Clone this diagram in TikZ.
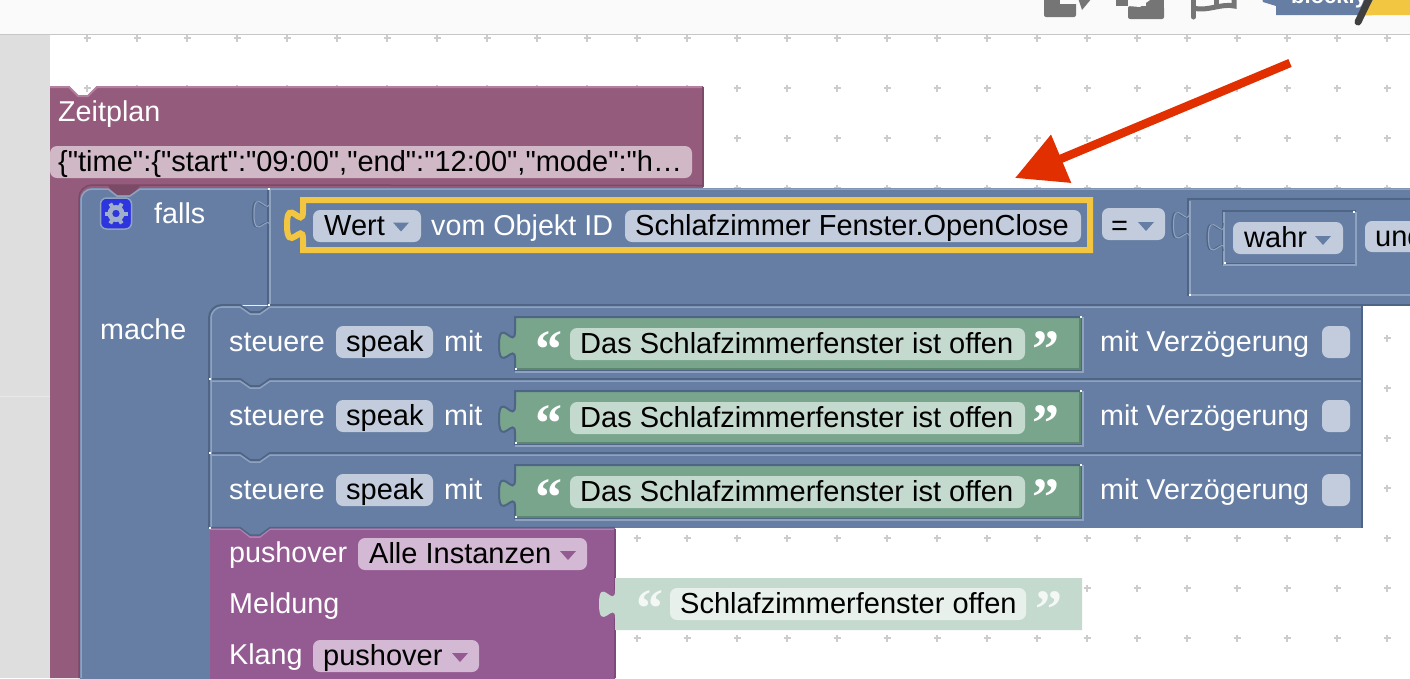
\documentclass[tikz,border=0pt]{standalone}
\usepackage{fontspec}
\setmainfont{Liberation Sans}
\newfontfamily\quotefont{Liberation Serif}
\newfontfamily\jsonfont{Liberation Sans}
\usetikzlibrary{arrows.meta}
\definecolor{blockblue}{HTML}{667EA3}
\definecolor{blockdark}{HTML}{4F6585}
\definecolor{blocklight}{HTML}{8FA2C0}
\definecolor{bluepill}{HTML}{C2CCDC}
\definecolor{gearblue}{HTML}{2D35DE}
\definecolor{planred}{HTML}{955B7C}
\definecolor{plandark}{HTML}{7A4A66}
\definecolor{planlight}{HTML}{B380A0}
\definecolor{planpill}{HTML}{D0B8C6}
\definecolor{stringgreen}{HTML}{78A58C}
\definecolor{greendark}{HTML}{5B8670}
\definecolor{greenpale}{HTML}{C5DACF}
\definecolor{palepill}{HTML}{E8F0EC}
\definecolor{pushpurple}{HTML}{945A92}
\definecolor{pushdark}{HTML}{7D4A7B}
\definecolor{pushlight}{HTML}{B27FB0}
\definecolor{pushpill}{HTML}{D3B9D3}
\definecolor{hiyellow}{HTML}{F2C641}
\definecolor{arrowred}{HTML}{E12F00}
\definecolor{icongrey}{HTML}{757575}
\tikzset{
	blocktext/.style={anchor=base west,inner sep=0pt,text=white,font=\fontsize{28.7}{32}\selectfont},
	fieldtext/.style={anchor=base west,inner sep=0pt,text=black,font=\fontsize{29}{32}\selectfont},
	quotetext/.style={anchor=base west,inner sep=0pt,text=white,font=\quotefont\bfseries\fontsize{54}{54}\selectfont},
	gridplus/.style={draw=black!20,line width=1.5pt},
	darkedge/.style={draw=blockdark,line width=2pt},
	lightedge/.style={draw=blocklight,line width=2pt}
}
% value block with its puzzle tab on the left: x1,y1,x2,y2,tab top
\newcommand{\valuepath}[5]{(#1,#2) -- (#1,#5) .. controls +(0,20) and (#1-16,#5-16) .. (#1-16,#5+14) .. controls (#1-16,#5+44) and (#1,#5+10) .. (#1,#5+28) -- (#1,#4) -- (#3,#4) -- (#3,#2) -- cycle}
\newcommand{\tabpath}[2]{(#1,#2) .. controls +(0,20) and (#1-16,#2-16) .. (#1-16,#2+14) .. controls (#1-16,#2+44) and (#1,#2+10) .. (#1,#2+28)}
\newcommand{\pill}[5]{\fill[#5,rounded corners=7pt] (#1,#2) rectangle (#3,#4);}
\newcommand{\dropdown}[3]{\fill[#3] (#1,#2) -- (#1+16,#2) -- (#1+8,#2+9) -- cycle;}
\begin{document}
\begin{tikzpicture}[x=1pt,y=-1pt]
	\useasboundingbox (0,0) rectangle (1410,678);
	\clip (0,0) rectangle (1410,678);
	\fill[white] (0,0) rectangle (1410,678);
	
	% workspace grid
	\foreach \gx in {87,137,...,1387}
		\foreach \gy in {38,88,...,638}
			\draw[gridplus] (\gx-3.5,\gy) -- (\gx+3.5,\gy) (\gx,\gy-3.5) -- (\gx,\gy+3.5);
	
	% toolbar and side panel
	\fill[black!2] (0,0) rectangle (1410,34);
	\draw[black!22,line width=1.5pt] (0,34.5) -- (1410,34.5);
	\fill[black!13] (0,35) rectangle (50,678);
	\draw[black!9,line width=1.5pt] (0,396.5) -- (50,396.5);
	
	\fill[icongrey,rounded corners=2pt] (1044,-5) rectangle (1076,17);
	\fill[white!98!black] (1060,-5) rectangle (1080,4);
	\fill[icongrey] (1078,-2) -- (1092,-2) -- (1082,10) -- cycle;
	\fill[icongrey] (1116,-2) rectangle (1128,6);
	\fill[icongrey,rounded corners=2pt] (1128,6) rectangle (1164,19);
	\fill[icongrey] (1146,-2) rectangle (1164,8);
	\fill[white!98!black] (1140,7) -- (1150,0) -- (1146,-2) -- (1128,-2) -- (1128,6) -- cycle;
	\draw[icongrey,line width=5pt,line cap=round] (1193.5,-2) -- (1193.5,17);
	\draw[icongrey,line width=5pt] (1193.5,8) .. controls (1206,12) and (1222,3) .. (1234,6) -- (1234,-2);
	\draw[icongrey,line width=5pt] (1216,7) -- (1216,-2);
	\fill[blockblue] (1262,-2) -- (1263,2) -- (1276,6) -- (1276,15) -- (1372,15) -- (1378,-2) -- cycle;
	\fill[hiyellow] (1374,-2) -- (1364,15) -- (1410,15) -- (1410,-2) -- cycle;
	\node[anchor=base west,inner sep=0pt,text=white,font=\bfseries\fontsize{22}{24}\selectfont] (logotext) at (1291,3) {blockly};
	\draw[black!75,line width=7pt,line cap=round] (1370,-3) -- (1358,22);
	
	% Zeitplan block
	\fill[planred] (50,86) -- (69,86) -- (78,95) -- (88,95) -- (97,86) -- (703,86) -- (703,200) -- (80,200) -- (80,678) -- (50,678) -- cycle;
	\draw[planlight,line width=2pt] (50,87) -- (69,87) -- (78,96) -- (88,96) -- (97,87) -- (702,87);
	\draw[plandark,line width=1.5pt] (703,87) -- (703,187);
	\fill[plandark] (108,186) -- (140,186) -- (130,196) -- (117,196) -- cycle;
	\draw[plandark,line width=1.5pt] (79,678) -- (79,198) arc[start angle=180,end angle=270,radius=13] -- (703,185.5);
	\node[blocktext] (zeitplan) at (58,121) {Zeitplan};
	\pill{50}{146}{692}{178}{planpill}
	\node[fieldtext,font=\jsonfont\fontsize{29}{32}\selectfont] (zeitplanjson) at (58,171.5) {\{"time":\{"start":"09:00","end":"12:00","mode":"h…};
	
	% falls block
	\fill[blockblue,rounded corners=12pt] (80,700) -- (80,188) -- (108,188) [sharp corners] -- (117,195) -- (130,195) -- (140,188) -- (1420,188) -- (1420,305) -- (210,305) -- (210,700) -- cycle;
	\draw[blocklight,line width=1.5pt] (81,678) -- (81,200) arc[start angle=180,end angle=270,radius=11] -- (108,189) -- (117,196) -- (130,196) -- (140,189) -- (1410,189);
	\node[draw=blocklight,line width=1.5pt,fill=gearblue,rounded corners=6pt,minimum size=31pt,inner sep=0pt] (gearbox) at (116,213.5) {};
	\fill[blocklight!85!white,even odd rule] (gearbox.center) circle[radius=8.5] (gearbox.center) circle[radius=3.8];
	\foreach \ang in {0,60,...,300}
		\draw[blocklight!85!white,line width=4pt] (gearbox.center) ++(\ang:7) -- ++(\ang:4.5);
	\node[blocktext] (falls) at (154,223) {falls};
	\node[blocktext] (mache) at (100,339) {mache};
	
	% socket of the condition
	\draw[darkedge,line width=1.5pt] (268,190) -- (268,305);
	\draw[lightedge,line width=1.2pt] (270,190) -- (270,305);
	\draw[darkedge,line width=1.2pt] \tabpath{268.5}{200};
	\draw[lightedge,line width=1pt] \tabpath{270}{200};
	
	% condition block with the yellow frame
	\fill[hiyellow] (300,197) rectangle (1093,253);
	\draw[hiyellow,fill=blockblue,line width=6pt] \valuepath{303}{200}{1090}{250}{211};
	\pill{313}{210}{421}{242}{bluepill}
	\node[fieldtext] (wert) at (324,235) {Wert};
	\dropdown{393}{222.5}{blockblue}
	\node[blocktext] (vomobjekt) at (431,235) {vom Objekt ID};
	\pill{625}{210}{1081}{242}{bluepill}
	\node[fieldtext] (objektid) at (635,235) {Schlafzimmer Fenster.OpenClose};
	\pill{1102}{208}{1165}{240}{bluepill}
	\node[fieldtext] (gleich) at (1111,235) {=};
	\dropdown{1138}{222}{blockblue}
	
	% right hand sockets
	\draw[darkedge] (1420,199) -- (1188,199) -- (1188,296);
	\draw[lightedge,line width=1.5pt] (1190,201) -- (1190,295) -- (1420,295);
	\draw[darkedge,line width=1.2pt] \tabpath{1188}{211};
	\draw[lightedge,line width=1pt] \tabpath{1189.5}{211};
	\draw[darkedge] (1356,211) -- (1223,211) -- (1223,264) -- (1356,264);
	\draw[lightedge,line width=1.5pt] (1356,212) -- (1356,265) -- (1224,265) -- (1224,212);
	\draw[darkedge,line width=1.2pt] \tabpath{1223}{223};
	\draw[lightedge,line width=1pt] \tabpath{1224.5}{223};
	\pill{1233}{222}{1343}{254}{bluepill}
	\node[fieldtext] (wahr) at (1244,247) {wahr};
	\dropdown{1315}{236}{blockblue}
	\pill{1365}{221}{1430}{252}{bluepill}
	\node[fieldtext] (und) at (1375,246) {und};
	\draw[darkedge] (1362,304.5) -- (1410,304.5);
	
	% steuere blocks
	\foreach \i/\rowy in {1/306,2/380,3/454} {
		\fill[blockblue] (210,\rowy) rectangle (1362,\rowy+74);
		\draw[darkedge] (210,\rowy-1) -- (240,\rowy-1) -- (250,\rowy+6) -- (260,\rowy+6) -- (270,\rowy-1) -- (1362,\rowy-1);
		\draw[lightedge,line width=1.5pt] (210,\rowy+1) -- (240,\rowy+1) -- (250,\rowy+8) -- (260,\rowy+8) -- (270,\rowy+1) -- (1362,\rowy+1);
		\draw[darkedge,line width=1.5pt] (1362,\rowy) -- (1362,\rowy+74);
		\node[blocktext] (steuere\i) at (229,\rowy+45) {steuere};
		\pill{336}{\rowy+20}{433}{\rowy+52}{bluepill}
		\node[fieldtext] (speak\i) at (346,\rowy+45) {speak};
		\node[blocktext] (mit\i) at (444,\rowy+45) {mit};
		\draw[blockdark,line width=2pt,fill=stringgreen] \valuepath{515}{\rowy+11}{1081}{\rowy+64}{\rowy+25};
		\draw[lightedge,line width=2pt] (515,\rowy+65.5) -- (1082.5,\rowy+65.5) -- (1082.5,\rowy+11);
		\draw[greendark,line width=1.5pt] (516,\rowy+63) -- (1080,\rowy+63) -- (1080,\rowy+12);
		\node[quotetext] (quoteopen\i) at (535,\rowy+61.5) {“};
		\pill{570}{\rowy+22}{1025}{\rowy+54}{greenpale}
		\node[fieldtext] (text\i) at (580,\rowy+47) {Das Schlafzimmerfenster ist offen};
		\node[quotetext] (quoteclose\i) at (1032,\rowy+61.5) {”};
		\node[blocktext] (verzoegerung\i) at (1100,\rowy+45) {mit Verzögerung};
		\pill{1322}{\rowy+20}{1350}{\rowy+52}{bluepill}
	}
	% rounded corner of the first one, left edge
	\fill[blockblue] (207,302) rectangle (222,318);
	\draw[darkedge] (209,528) -- (209,318) arc[start angle=180,end angle=270,radius=13] -- (240,305);
	\draw[lightedge,line width=1.5pt] (211,528) -- (211,318) arc[start angle=180,end angle=270,radius=11] -- (240,307);
	
	% pushover block
	\fill[blockblue] (240,526) rectangle (270,538);
	\fill[pushpurple] (210,528) -- (240,528) -- (250,536) -- (260,536) -- (270,528) -- (615,528) -- (615,690) -- (210,690) -- cycle;
	\draw[pushlight,line width=1.5pt] (210,529) -- (240,529) -- (250,537) -- (260,537) -- (270,529) -- (614,529);
	\draw[blockdark,line width=1.5pt] (210,527.5) -- (240,527.5) -- (250,535) -- (260,535) -- (270,527.5) -- (615,527.5);
	\draw[pushdark,line width=1.5pt] (615,529) -- (615,678);
	\node[blocktext] (pushover) at (229,562.5) {pushover};
	\pill{358}{538}{587}{570}{pushpill}
	\node[fieldtext] (instanzen) at (369,563) {Alle Instanzen};
	\dropdown{560}{551}{pushpurple}
	\node[blocktext] (meldung) at (229,613) {Meldung};
	\node[blocktext] (klang) at (229,664.5) {Klang};
	\pill{313}{640}{479}{672}{pushpill}
	\node[fieldtext] (pushoverfield) at (323,665) {pushover};
	\dropdown{452}{653}{pushpurple}
	
	% pale text block
	\fill[greenpale] \valuepath{615}{578}{1082}{630}{590};
	\node[quotetext,text=white!80!greenpale] (quoteopen) at (636,626.5) {“};
	\pill{670}{588}{1026}{620}{palepill}
	\node[fieldtext] (textoffen) at (680,613) {Schlafzimmerfenster offen};
	\node[quotetext,text=white!80!greenpale] (quoteclose) at (1035,627.5) {”};
	
	% small white corner dots
	\foreach \dx/\dy in {268.5/188.5,268.5/305,210/379,210/453,210/528,1080.5/317,1080.5/391,1080.5/465,515.5/369,515.5/443,515.5/517,1189.5/295,1224.5/263,1354/212}
		\fill[white] (\dx-1,\dy-1) rectangle (\dx+1,\dy+1);
	
	% red arrow
	\coordinate (arrowstart) at (1290,63);
	\coordinate (arrowend) at (1015,178);
	\draw[arrowred,line width=8.5pt,-{Triangle[length=50pt,width=50pt]}] (arrowstart) -- (arrowend);
\end{tikzpicture}
\end{document}
